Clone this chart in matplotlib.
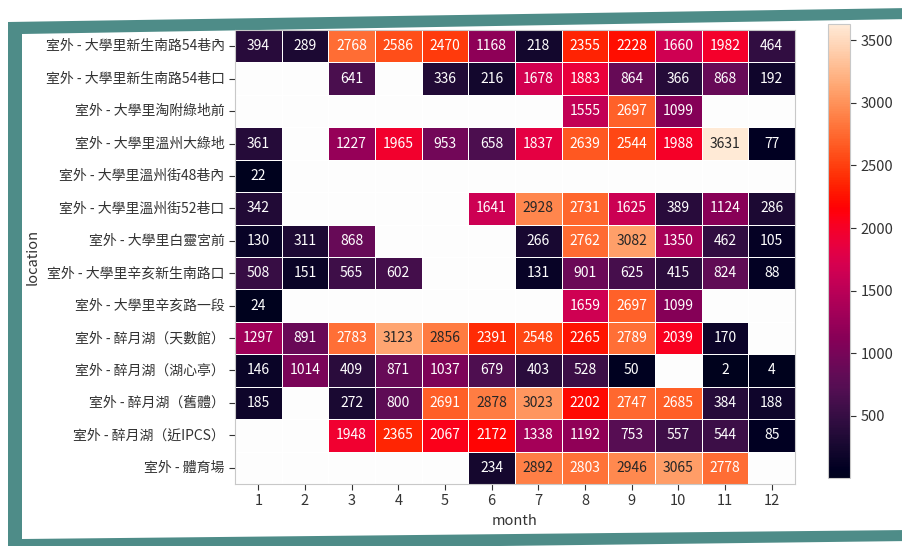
import numpy as np
import pandas as pd
import matplotlib
matplotlib.use("Agg")
import matplotlib.pyplot as plt
from matplotlib.patches import Polygon
from matplotlib.colors import ListedColormap, rgb_to_hsv, hsv_to_rgb
import seaborn as sns

plt.rcParams['font.family'] = ['Noto Sans CJK TC', 'DejaVu Sans']

months = list(range(1, 13))
locations = [
    "室外 - 大學里新生南路54巷內",
    "室外 - 大學里新生南路54巷口",
    "室外 - 大學里淘附綠地前",
    "室外 - 大學里溫州大綠地",
    "室外 - 大學里溫州街48巷內",
    "室外 - 大學里溫州街52巷口",
    "室外 - 大學里白靈宮前",
    "室外 - 大學里辛亥新生南路口",
    "室外 - 大學里辛亥路一段",
    "室外 - 醉月湖（天數館）",
    "室外 - 醉月湖（湖心亭）",
    "室外 - 醉月湖（舊體）",
    "室外 - 醉月湖（近IPCS）",
    "室外 - 體育場",
]
nan = np.nan
row_xinsheng54_in = [394, 289, 2768, 2586, 2470, 1168, 218, 2355, 2228, 1660, 1982, 464]
row_xinsheng54_mouth = [nan, nan, 641, nan, 336, 216, 1678, 1883, 864, 366, 868, 192]
row_greenland = [nan, nan, nan, nan, nan, nan, nan, 1555, 2697, 1099, nan, nan]
row_wenzhou_green = [361, nan, 1227, 1965, 953, 658, 1837, 2639, 2544, 1988, 3631, 77]
row_wenzhou48 = [22, nan, nan, nan, nan, nan, nan, nan, nan, nan, nan, nan]
row_wenzhou52 = [342, nan, nan, nan, nan, 1641, 2928, 2731, 1625, 389, 1124, 286]
row_temple = [130, 311, 868, nan, nan, nan, 266, 2762, 3082, 1350, 462, 105]
row_xinhai_xinsheng = [508, 151, 565, 602, nan, nan, 131, 901, 625, 415, 824, 88]
row_xinhai_sec1 = [24, nan, nan, nan, nan, nan, nan, 1659, 2697, 1099, nan, nan]
row_lake_astro = [1297, 891, 2783, 3123, 2856, 2391, 2548, 2265, 2789, 2039, 170, nan]
row_lake_pavilion = [146, 1014, 409, 871, 1037, 679, 403, 528, 50, nan, 2, 4]
row_lake_oldgym = [185, nan, 272, 800, 2691, 2878, 3023, 2202, 2747, 2685, 384, 188]
row_lake_ipcs = [nan, nan, 1948, 2365, 2067, 2172, 1338, 1192, 753, 557, 544, 85]
row_stadium = [nan, nan, nan, nan, nan, 234, 2892, 2803, 2946, 3065, 2778, nan]

table = pd.DataFrame(
    [row_xinsheng54_in, row_xinsheng54_mouth, row_greenland, row_wenzhou_green,
     row_wenzhou48, row_wenzhou52, row_temple, row_xinhai_xinsheng,
     row_xinhai_sec1, row_lake_astro, row_lake_pavilion, row_lake_oldgym,
     row_lake_ipcs, row_stadium],
    index=pd.Index(locations, name="location"),
    columns=pd.Index(months, name="month"),
)

# a more vivid version of seaborn's "rocket" palette
base = np.array(sns.color_palette("rocket", 256))
hsv = rgb_to_hsv(base)
hsv[:, 1] = np.clip(hsv[:, 1] * 1.35, 0, 1)
hsv[:, 2] = np.clip(hsv[:, 2] * 1.12, 0, 1)
vivid = ListedColormap(hsv_to_rgb(hsv))

W, H = 903, 546
fig = plt.figure(figsize=(W / 100, H / 100), dpi=100)
fig.patch.set_facecolor("white")


def px(points):
    return [(x / W, 1 - y / H) for x, y in points]


# tilted card behind the chart
teal = "#4e8c88"
fig.add_artist(Polygon(px([(8, 22), (910, 8), (910, 541), (8, 552)]),
                       closed=True, facecolor=teal, edgecolor="none",
                       transform=fig.transFigure, zorder=-3))
fig.add_artist(Polygon(px([(22, 34), (910, 19), (910, 530), (22, 539)]),
                       closed=True, facecolor="white", edgecolor="none",
                       transform=fig.transFigure, zorder=-2))

ax = fig.add_axes([235 / W, 1 - 484 / H, (795 - 235) / W, (484 - 30) / H])
cax = fig.add_axes([828 / W, 1 - 478 / H, 22 / W, (478 - 24) / H])
ax.set_facecolor("#fdfdfd")

sns.heatmap(table, ax=ax, cbar_ax=cax, cmap=vivid, annot=True, fmt=".0f",
            linewidths=0.6, linecolor="white",
            annot_kws={"fontsize": 10})

# dark labels only on the palest cells
for txt in ax.texts:
    v = float(txt.get_text())
    txt.set_color("#262626" if v >= 2850 else "white")

for sp in ax.spines.values():
    sp.set_visible(True)
    sp.set_color("#c8c8c8")
    sp.set_linewidth(0.8)

ax.tick_params(axis="both", colors="#333333", labelsize=10, length=4, width=0.8)
ax.tick_params(axis="x", labelsize=10.5)
ax.set_yticklabels(locations, rotation=0)
ax.set_xticklabels([str(m) for m in months], rotation=0)
ax.set_xlabel("month", fontsize=10.5, color="#333333")
ax.set_ylabel("location", fontsize=10.5, color="#333333")

cbar = ax.collections[0].colorbar
cbar.set_ticks([500, 1000, 1500, 2000, 2500, 3000, 3500])
cbar.ax.tick_params(labelsize=10.5, colors="#333333", length=4, width=0.8)
cbar.outline.set_visible(True)
cbar.outline.set_edgecolor("#c8c8c8")
cbar.outline.set_linewidth(0.8)

fig.savefig("out.png", dpi=100, facecolor="white")
